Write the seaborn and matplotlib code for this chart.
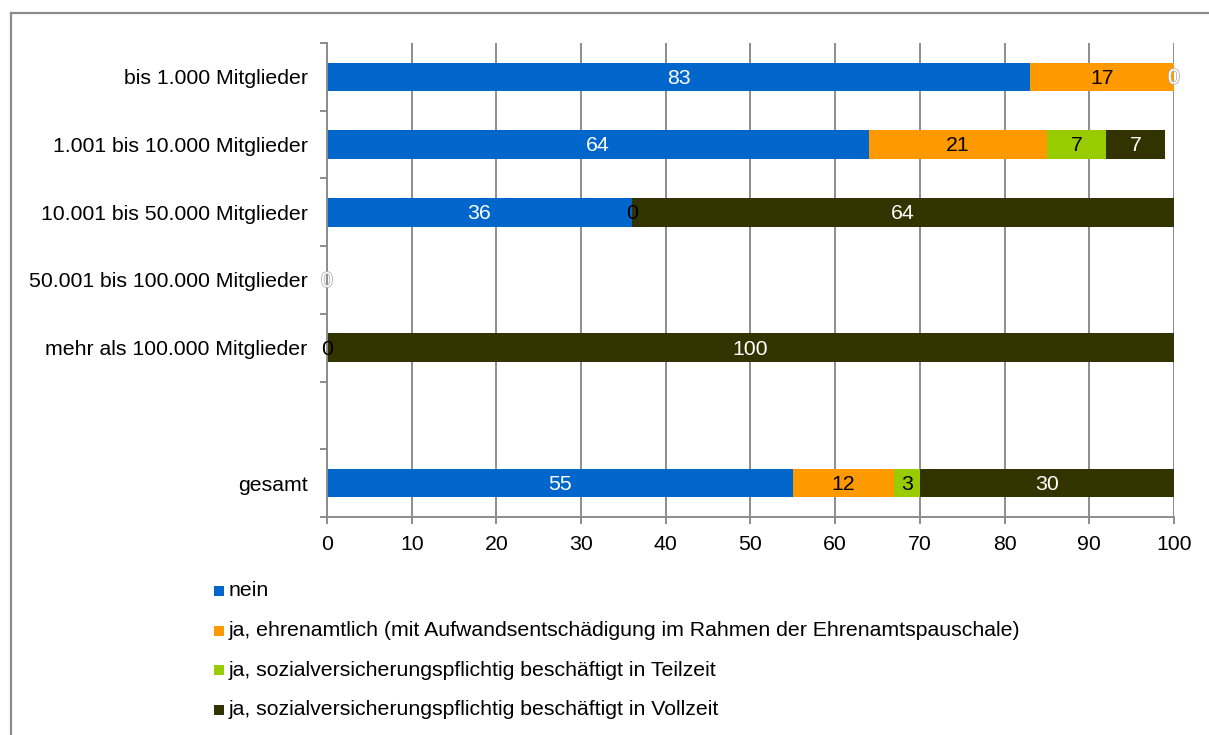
import numpy as np
import pandas as pd
import matplotlib
matplotlib.use("Agg")
import matplotlib.pyplot as plt
import matplotlib.patheffects as pe
from matplotlib.lines import Line2D
from matplotlib.patches import Rectangle
import seaborn as sns

# Groups (an empty slot separates the single groups from the total)
categories = [
    "bis 1.000 Mitglieder",
    "1.001 bis 10.000 Mitglieder",
    "10.001 bis 50.000 Mitglieder",
    "50.001 bis 100.000 Mitglieder",
    "mehr als 100.000 Mitglieder",
    "",
    "gesamt",
]

series_names = [
    "nein",
    "ja, ehrenamtlich (mit Aufwandsentschädigung im Rahmen der Ehrenamtspauschale)",
    "ja, sozialversicherungspflichtig beschäftigt in Teilzeit",
    "ja, sozialversicherungspflichtig beschäftigt in Vollzeit",
]

# Percentages per group; None = no value reported
nein = [83, 64, 36, 0, None, None, 55]
ehrenamtlich = [17, 21, 0, None, 0, None, 12]
teilzeit = [None, 7, None, None, None, None, 3]
vollzeit = [0, 7, 64, None, 100, None, 30]

colors = ["#0066CC", "#FF9900", "#99CC00", "#333300"]
label_colors = ["white", "black", "black", "white"]

x_ticks = list(range(0, 101, 10))

FS = 15.3
plt.rcParams["font.family"] = ["Liberation Sans", "DejaVu Sans"]

fig = plt.figure(figsize=(12.09, 7.35), dpi=100)
ax = fig.add_axes([0.2705, 0.2966, 0.7005, 0.6449])

series = [nein, ehrenamtlich, teilzeit, vollzeit]
left = np.zeros(len(categories))
bar_h = 0.42
for name, vals, col, lcol in zip(series_names, series, colors, label_colors):
    v = np.array([0.0 if x is None else float(x) for x in vals])
    df = pd.DataFrame({"gruppe": categories, "wert": v})
    sns.barplot(data=df, x="wert", y="gruppe", order=categories, orient="y",
                color=col, width=bar_h, errorbar=None, left=left.copy(),
                linewidth=0, saturation=1, ax=ax, zorder=3)
    for i, x in enumerate(vals):
        if x is None:
            continue
        cx = left[i] + x / 2
        t = ax.text(cx, i + 0.02, f"{x:g}", ha="center", va="center",
                    color=lcol, fontsize=FS, zorder=5)
        if lcol == "white" and x == 0:
            t.set_path_effects([pe.withStroke(linewidth=1.2, foreground="#b0b0b0")])
    left = left + v

# Axes styling
ax.set_xlim(0, 100)
ax.set_ylim(len(categories) - 0.5, -0.5)
ax.set_xticks(x_ticks)
ax.set_xticklabels([str(t) for t in x_ticks], fontsize=FS)
ax.set_yticks(range(len(categories)))
ax.set_yticklabels(categories, fontsize=FS)
ax.set_yticks(np.arange(-0.5, len(categories), 1.0), minor=True)
ax.tick_params(axis="y", which="major", length=0, pad=14)
ax.tick_params(axis="y", which="minor", length=5, width=1.4, color="#8c8c8c")
ax.tick_params(axis="x", which="major", length=5, width=1.4, color="#8c8c8c", pad=8)
ax.set_xlabel("")
ax.set_ylabel("")
ax.grid(axis="x", color="#8c8c8c", linewidth=1.4, zorder=0)
ax.grid(axis="y", visible=False)
ax.set_axisbelow(True)
for s in ["top", "right"]:
    ax.spines[s].set_visible(False)
for s in ["left", "bottom"]:
    ax.spines[s].set_color("#8c8c8c")
    ax.spines[s].set_linewidth(1.4)
    ax.spines[s].set_zorder(4)

# Legend below the plot
W, H = 1209, 735
leg_y = [591, 630.5, 670, 709.5]
for name, col, yy in zip(series_names, colors, leg_y):
    fig.add_artist(Rectangle((214 / W, 1 - (yy + 5) / H), 10 / W, 10 / H,
                             transform=fig.transFigure, color=col, lw=0))
    fig.text(229 / W, 1 - yy / H, name, fontsize=FS, va="center", ha="left")

# Chart frame
fig.add_artist(Line2D([11 / W, 11 / W], [0, 1 - 13 / H], transform=fig.transFigure,
                      color="#8c8c8c", lw=1.6))
fig.add_artist(Line2D([11 / W, 1], [1 - 13 / H, 1 - 13 / H], transform=fig.transFigure,
                      color="#8c8c8c", lw=1.6))

fig.savefig("out.png", dpi=100, facecolor="white")
